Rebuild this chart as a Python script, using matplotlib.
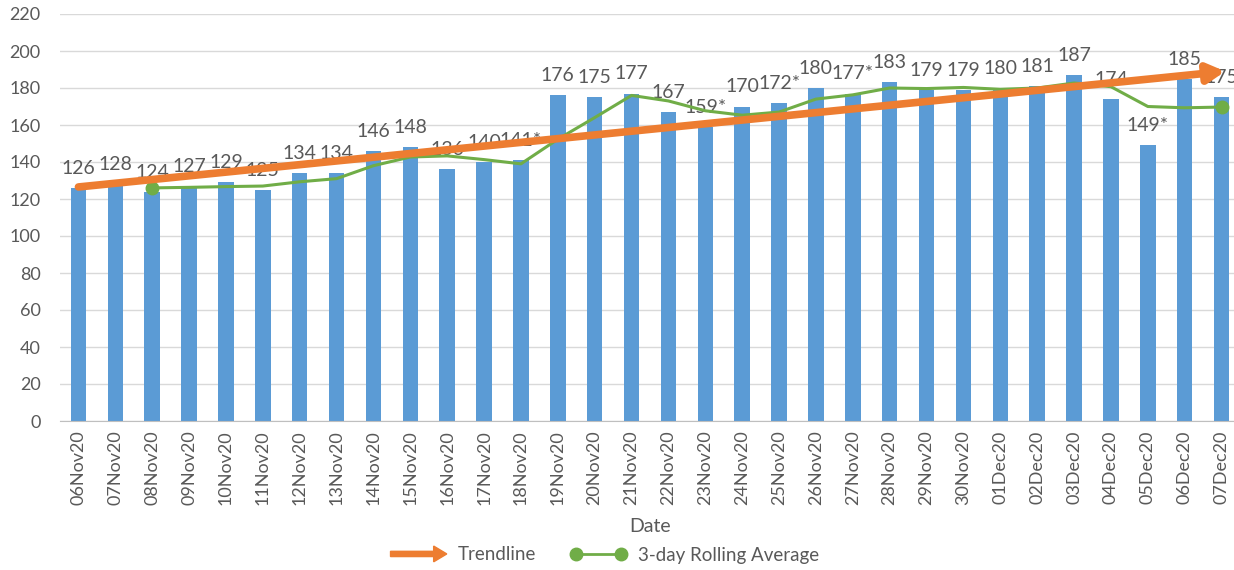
import matplotlib
matplotlib.use("Agg")
import matplotlib.pyplot as plt
from matplotlib.patches import FancyArrow
from matplotlib.lines import Line2D
from matplotlib.legend_handler import HandlerPatch

plt.rcParams["font.family"] = ["Lato", "DejaVu Sans"]

dates = ["06Nov20","07Nov20","08Nov20","09Nov20","10Nov20","11Nov20","12Nov20","13Nov20",
         "14Nov20","15Nov20","16Nov20","17Nov20","18Nov20","19Nov20","20Nov20","21Nov20",
         "22Nov20","23Nov20","24Nov20","25Nov20","26Nov20","27Nov20","28Nov20","29Nov20",
         "30Nov20","01Dec20","02Dec20","03Dec20","04Dec20","05Dec20","06Dec20","07Dec20"]
values = [126,128,124,127,129,125,134,134,146,148,136,140,141,176,175,177,
          167,159,170,172,180,177,183,179,179,180,181,187,174,149,185,175]
labels = ["126","128","124","127","129","125","134","134","146","148","136","140","141*",
          "176","175","177","167","159*","170","172*","180","177*","183","179","179",
          "180","181","187","174","149*","185","175"]
rolling_dates_start = 2
rolling = [126.0,126.3,126.7,127.0,129.3,131.0,138.0,142.7,143.3,141.3,139.0,152.3,164.0,
           176.0,173.0,167.7,165.3,167.0,174.0,176.3,180.0,179.7,180.3,179.3,180.0,182.7,
           180.7,170.0,169.3,169.7]
trend_start = 126.5
trend_end = 189.0

BLUE = "#5B9BD5"
ORANGE = "#ED7D31"
GREEN = "#70AD47"
TXT = "#595959"

fig = plt.figure(figsize=(12.34, 5.70), dpi=100)
ax = fig.add_axes([60/1234, 1-421/570, 1180/1234, (421-14)/570])

x = list(range(len(dates)))
ax.bar(x, values, width=0.42, color=BLUE, zorder=2)
for xi, v, lab in zip(x, values, labels):
    ax.text(xi, v + 6, lab, ha="center", va="bottom", fontsize=14, color=TXT, zorder=3)

rx = x[rolling_dates_start:]
ax.plot(rx, rolling, color=GREEN, lw=2.2, zorder=4)
ax.plot([rx[0], rx[-1]], [rolling[0], rolling[-1]], "o", color=GREEN, ms=9, zorder=5)

ax.annotate("", xy=(x[-1] + 0.1, trend_end), xytext=(x[0], trend_start),
            arrowprops=dict(arrowstyle="-|>,head_length=1.0,head_width=0.55", lw=5.5,
                            color=ORANGE, shrinkA=0, shrinkB=0), zorder=6)

ax.set_xlim(-0.5, 31.5)
ax.set_ylim(0, 220)
ax.set_yticks(range(0, 221, 20))
ax.set_xticks(x)
ax.set_xticklabels(dates, rotation=90, fontsize=13, color=TXT)
ax.tick_params(axis="y", labelsize=13, colors=TXT, length=0, pad=14)
ax.tick_params(axis="x", length=0, pad=7)
ax.grid(axis="y", color="#D9D9D9", lw=1, zorder=0)
ax.set_axisbelow(True)
for s in ["top", "right", "left"]:
    ax.spines[s].set_visible(False)
ax.spines["bottom"].set_color("#BFBFBF")
ax.set_xlabel("Date", fontsize=14, color=TXT, labelpad=9)


def make_arrow(legend, orig_handle, xdescent, ydescent, width, height, fontsize):
    return FancyArrow(-xdescent, height / 2 - ydescent, width, 0, width=height * 0.4,
                      head_width=height * 1.2, head_length=height * 1.0,
                      length_includes_head=True, color=ORANGE)

arrow_handle = FancyArrow(0, 0, 1, 0, color=ORANGE)
green_handle = Line2D([], [], color=GREEN, lw=2, marker="o", ms=9)
fig.legend([arrow_handle, green_handle], ["Trendline", "3-day Rolling Average"],
           handler_map={FancyArrow: HandlerPatch(patch_func=make_arrow)},
           loc="center", bbox_to_anchor=(0.49, 1 - 555/570), ncol=2, frameon=False,
           fontsize=13.5, labelcolor=TXT, handlelength=3.0, handletextpad=0.6,
           columnspacing=1.8, numpoints=2)

fig.savefig("out.png", dpi=100)
